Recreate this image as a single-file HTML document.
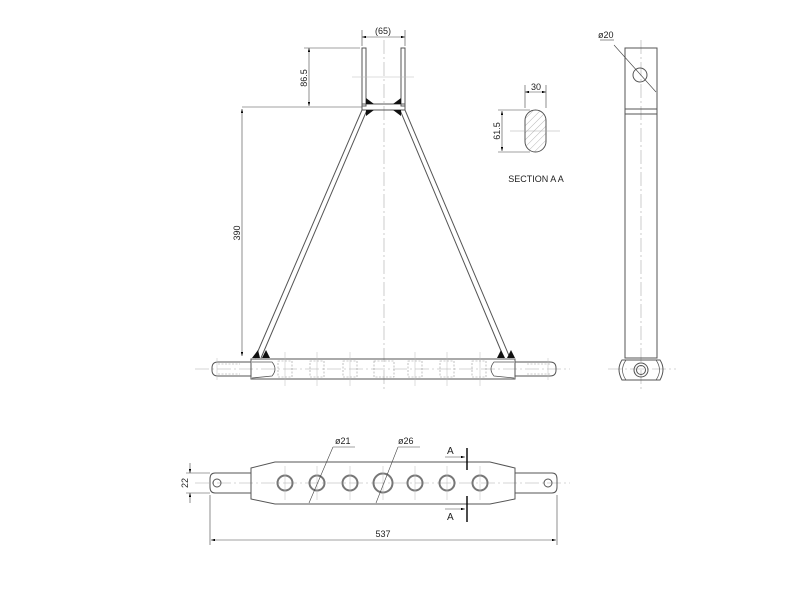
<!DOCTYPE html>
<html><head><style>body{margin:0;background:#fff}svg{display:block}</style></head><body>
<svg width="800" height="600" viewBox="0 0 800 600" xmlns="http://www.w3.org/2000/svg" font-family="Liberation Sans, sans-serif" font-size="9">
<defs>
<marker id="ar" viewBox="0 0 10 6" refX="10" refY="3" markerWidth="7" markerHeight="4" orient="auto-start-reverse"><path d="M0,0L10,3L0,6z" fill="#000"/></marker>
<pattern id="hatch" width="5" height="5" patternUnits="userSpaceOnUse" patternTransform="rotate(45)"><line x1="0" y1="0" x2="0" y2="5" stroke="#999" stroke-width="0.7"/></pattern>
</defs>
<g fill="none" stroke="#555" stroke-width="1">
<!-- centerlines -->
<g stroke="#aaa" stroke-width="0.6" stroke-dasharray="14,3,2,3">
<line x1="384" y1="40" x2="384" y2="390"/>
<line x1="195" y1="369" x2="570" y2="369"/>
<line x1="641" y1="40" x2="641" y2="390"/>
<line x1="195" y1="483" x2="570" y2="483"/>
<line x1="608" y1="369" x2="676" y2="369"/>
</g>
<!-- top view plates -->
<rect x="362" y="48" width="4" height="58"/>
<rect x="401" y="48" width="4" height="58"/>
<line x1="352" y1="77" x2="414" y2="77" stroke="#bbb" stroke-width="0.6"/>
<rect x="362" y="104" width="43" height="6"/>
<!-- arms -->
<path d="M362,110 L255,358 M367,110 L261,358"/>
<path d="M405,110 L510,358 M400,110 L504,358"/>
<!-- welds -->
<g fill="#111" stroke="none">
<path d="M366,98 L374,104 L366,104z"/><path d="M401,98 L393,104 L401,104z"/>
<path d="M366,110 L374,110 L366,116z"/><path d="M401,110 L393,110 L401,116z"/>
<path d="M252,358 L258,350 L260,358z"/><path d="M262,358 L266,350 L270,358z"/>
<path d="M507,358 L511,350 L515,358z"/><path d="M497,358 L501,350 L505,358z"/>
</g>
<!-- bar top view -->
<rect x="251" y="359" width="264" height="20"/>
<path d="M251,362 L218,362 Q212,362 212,368 L212,370 Q212,376 218,376 L251,376"/>
<path d="M515,362 L550,362 Q556,362 556,368 L556,370 Q556,376 550,376 L515,376"/>
<path d="M252,362 L272,362 Q278,369 272,376 L252,378" stroke-width="0.8"/>
<path d="M514,362 L494,362 Q488,369 494,376 L514,378" stroke-width="0.8"/>
<g stroke="#999" stroke-width="0.6" stroke-dasharray="2,1.5">
<rect x="278" y="361" width="14" height="16"/><rect x="310" y="361" width="14" height="16"/>
<rect x="343" y="361" width="14" height="16"/><rect x="374" y="361" width="20" height="16"/>
<rect x="408" y="361" width="14" height="16"/><rect x="440" y="361" width="14" height="16"/>
<rect x="472" y="361" width="14" height="16"/>
<line x1="218" y1="364" x2="240" y2="364"/><line x1="218" y1="374" x2="240" y2="374"/>
<line x1="527" y1="364" x2="550" y2="364"/><line x1="527" y1="374" x2="550" y2="374"/>
</g>
<g stroke="#bbb" stroke-width="0.5">
<line x1="285" y1="352" x2="285" y2="386"/><line x1="317" y1="352" x2="317" y2="386"/>
<line x1="350" y1="352" x2="350" y2="386"/><line x1="415" y1="352" x2="415" y2="386"/>
<line x1="447" y1="352" x2="447" y2="386"/><line x1="480" y1="352" x2="480" y2="386"/>
<line x1="217" y1="358" x2="217" y2="380"/><line x1="548" y1="358" x2="548" y2="380"/>
</g>
<!-- dimensions top -->
<g stroke="#444" stroke-width="0.6">
<line x1="242" y1="107" x2="362" y2="107"/>
<line x1="242" y1="109" x2="242" y2="356" marker-start="url(#ar)" marker-end="url(#ar)"/>
<line x1="304" y1="48" x2="360" y2="48"/>
<line x1="309" y1="48" x2="309" y2="106" marker-start="url(#ar)" marker-end="url(#ar)"/>
<line x1="362" y1="30" x2="362" y2="46"/><line x1="405" y1="30" x2="405" y2="46"/>
<line x1="362" y1="37" x2="405" y2="37" marker-start="url(#ar)" marker-end="url(#ar)"/>
</g>
<!-- side view -->
<rect x="625" y="48" width="32" height="310"/>
<line x1="625" y1="109" x2="657" y2="109"/><line x1="625" y1="114" x2="657" y2="114"/>
<circle cx="640" cy="75" r="7"/>
<line x1="614" y1="45" x2="656" y2="92" stroke="#444" stroke-width="0.6"/>
<line x1="600" y1="40" x2="614" y2="40" stroke="#444" stroke-width="0.6"/>
<path d="M622,360 L660,360 Q666,369 660,380 L622,380 Q616,369 622,360z"/>
<path d="M626,360 Q619,370 626,380 M656,360 Q663,370 656,380" stroke-width="0.7"/>
<circle cx="641" cy="370" r="7"/><circle cx="641" cy="370" r="4.5"/>
<!-- section -->
<rect x="525" y="110" width="21" height="42" rx="10.5" fill="url(#hatch)"/>
<line x1="510" y1="131" x2="560" y2="131" stroke="#aaa" stroke-width="0.6"/>
<g stroke="#444" stroke-width="0.6">
<line x1="525" y1="85" x2="525" y2="108"/><line x1="546" y1="85" x2="546" y2="108"/>
<line x1="525" y1="92" x2="546" y2="92" marker-start="url(#ar)" marker-end="url(#ar)"/>
<line x1="498" y1="110" x2="530" y2="110"/><line x1="498" y1="152" x2="530" y2="152"/>
<line x1="502" y1="111" x2="502" y2="151" marker-start="url(#ar)" marker-end="url(#ar)"/>
</g>
<!-- bottom view -->
<path d="M251,468 L275,462 L490,462 L515,468 L515,499 L490,504 L275,504 L251,499z"/>
<path d="M251,473 L215,473 Q210,473 210,479 L210,487 Q210,493 215,493 L251,493"/>
<path d="M515,473 L552,473 Q557,473 557,479 L557,487 Q557,493 552,493 L515,493"/>
<circle cx="217" cy="483" r="4"/><circle cx="548" cy="483" r="4"/>
<g stroke="#777" stroke-width="2">
<circle cx="285" cy="483" r="7.5"/><circle cx="317" cy="483" r="7.5"/>
<circle cx="350" cy="483" r="7.5"/><circle cx="383" cy="483" r="9.5"/>
<circle cx="415" cy="483" r="7.5"/><circle cx="447" cy="483" r="7.5"/>
<circle cx="480" cy="483" r="7.5"/>
</g>
<g stroke="#bbb" stroke-width="0.5">
<line x1="285" y1="466" x2="285" y2="500"/><line x1="317" y1="466" x2="317" y2="500"/>
<line x1="350" y1="466" x2="350" y2="500"/><line x1="383" y1="466" x2="383" y2="500"/>
<line x1="415" y1="466" x2="415" y2="500"/><line x1="447" y1="466" x2="447" y2="500"/>
<line x1="480" y1="466" x2="480" y2="500"/>
</g>
<g stroke="#444" stroke-width="0.6">
<line x1="309" y1="503" x2="333" y2="447"/><line x1="333" y1="447" x2="355" y2="447"/>
<line x1="376" y1="503" x2="398" y2="447"/><line x1="398" y1="447" x2="420" y2="447"/>
<line x1="186" y1="473" x2="210" y2="473"/><line x1="186" y1="493" x2="210" y2="493"/>
<line x1="190" y1="463" x2="190" y2="473" marker-end="url(#ar)"/>
<line x1="190" y1="503" x2="190" y2="493" marker-end="url(#ar)"/>
<line x1="210" y1="495" x2="210" y2="545"/><line x1="557" y1="495" x2="557" y2="545"/>
<line x1="211" y1="540" x2="556" y2="540" marker-start="url(#ar)" marker-end="url(#ar)"/>
<line x1="445" y1="457" x2="465" y2="457" marker-end="url(#ar)"/>
<line x1="445" y1="509" x2="465" y2="509" marker-end="url(#ar)"/>
</g>
<line x1="467" y1="448" x2="467" y2="470" stroke="#000" stroke-width="1.4"/>
<line x1="467" y1="496" x2="467" y2="522" stroke="#000" stroke-width="1.4"/>
</g>
<g fill="#222">
<text x="383" y="34" text-anchor="middle">(65)</text>
<text transform="translate(307,78) rotate(-90)" text-anchor="middle">86.5</text>
<text transform="translate(240,233) rotate(-90)" text-anchor="middle">390</text>
<text x="536" y="90" text-anchor="middle">30</text>
<text transform="translate(500,131) rotate(-90)" text-anchor="middle">61.5</text>
<text x="536" y="182" text-anchor="middle">SECTION A A</text>
<text x="598" y="38">ø20</text>
<text x="335" y="444">ø21</text>
<text x="398" y="444">ø26</text>
<text x="447" y="454" font-size="10">A</text>
<text x="447" y="520" font-size="10">A</text>
<text transform="translate(188,483) rotate(-90)" text-anchor="middle">22</text>
<text x="383" y="537" text-anchor="middle">537</text>
</g>
</svg>
</body></html>
